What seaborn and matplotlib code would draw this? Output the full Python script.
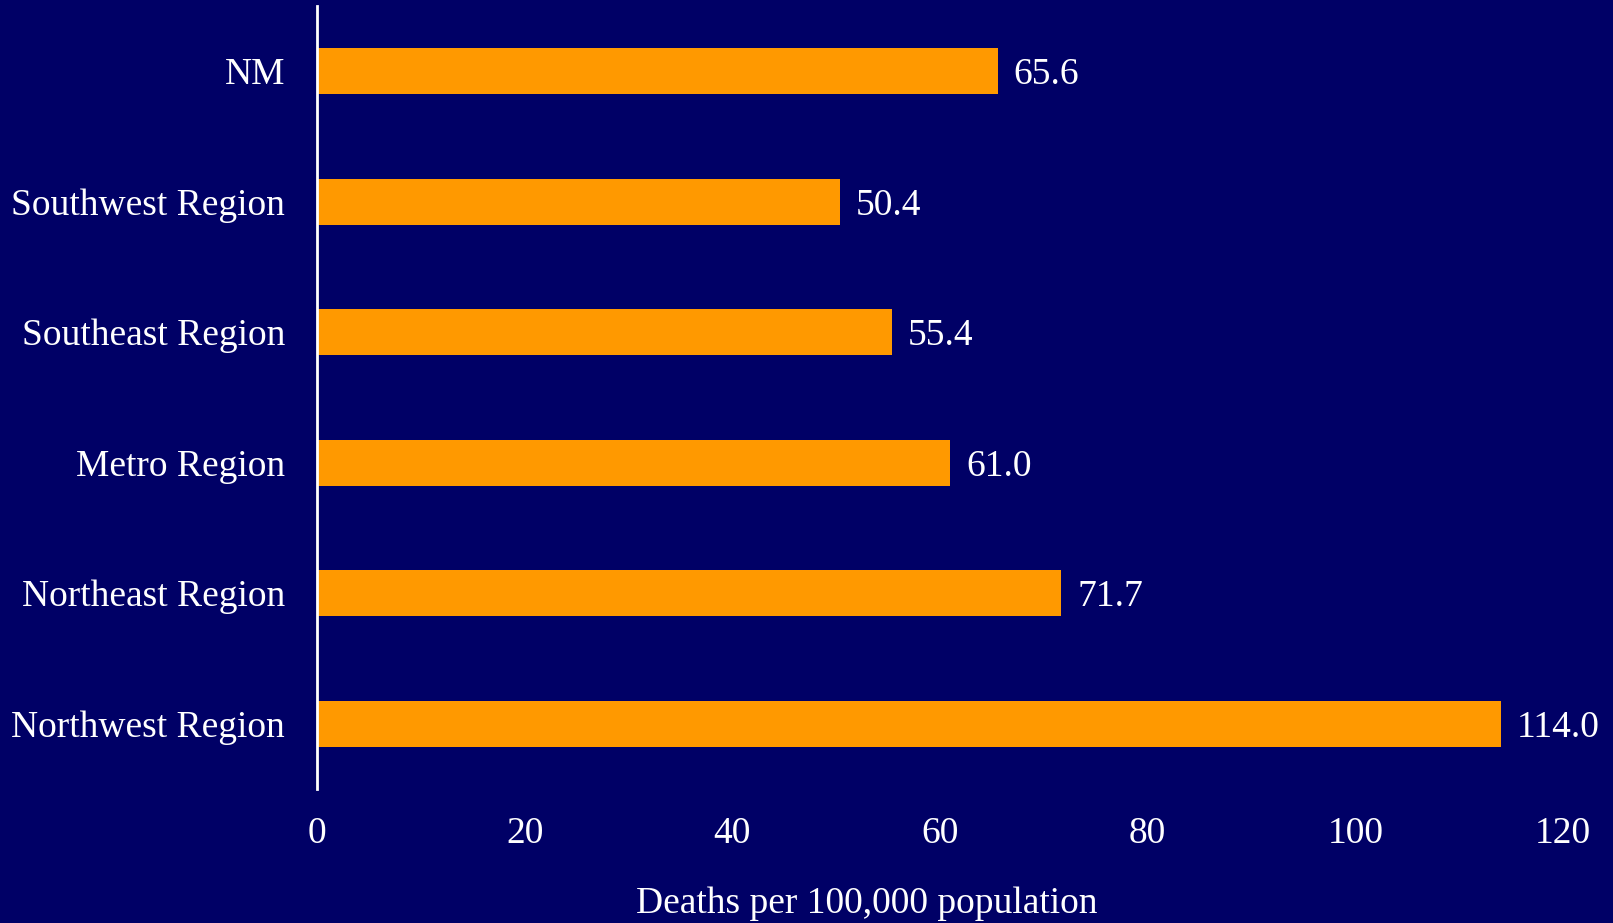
import matplotlib.pyplot as plt
import seaborn as sns
import pandas as pd

regions = ['NM', 'Southwest Region', 'Southeast Region', 'Metro Region',
           'Northeast Region', 'Northwest Region']
rates = [65.6, 50.4, 55.4, 61.0, 71.7, 114.0]
xticks = [0, 20, 40, 60, 80, 100, 120]

navy = '#000066'
orange = '#FF9900'

sns.set_style('white')
plt.rcParams['font.family'] = ['Liberation Serif', 'DejaVu Serif']

df = pd.DataFrame({'region': regions, 'rate': rates})

fig = plt.figure(figsize=(16.13, 9.23), dpi=100, facecolor=navy)
ax = fig.add_axes([0.1965, 0.1452, 0.7725, 0.8483])
ax.set_facecolor(navy)

sns.barplot(data=df, x='rate', y='region', color=orange, width=0.35,
            saturation=1, linewidth=0, ax=ax)

ax.set_xlim(0, 120)
ax.set_ylim(5.5, -0.5)
ax.set_xticks(xticks)
ax.set_xticklabels([str(t) for t in xticks])
ax.tick_params(axis='both', length=0, labelsize=27, colors='white')
ax.tick_params(axis='x', pad=20)
ax.tick_params(axis='y', pad=23)
ax.set_ylabel('')
ax.set_xlabel('Deaths per 100,000 population', fontsize=27, color='white',
              labelpad=22)
ax.xaxis.set_label_coords(0.441, -0.125)

for side in ['top', 'right', 'bottom']:
    ax.spines[side].set_visible(False)
ax.spines['left'].set_color('white')
ax.spines['left'].set_linewidth(2)

for bar, val in zip(ax.patches, rates):
    ax.text(bar.get_width() + 1.5, bar.get_y() + bar.get_height() / 2,
            f'{val:.1f}', color='white', fontsize=27, ha='left',
            va='center_baseline')

fig.savefig('out.png', dpi=100, facecolor=navy)
